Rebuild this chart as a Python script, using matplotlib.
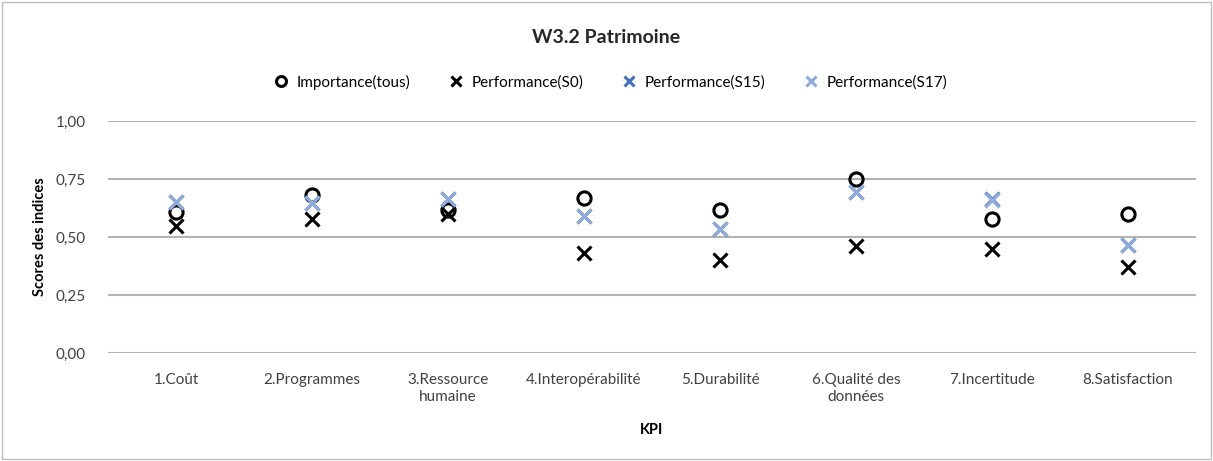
import numpy as np
import matplotlib.pyplot as plt
from matplotlib.patches import Rectangle

plt.rcParams['font.family'] = ['Lato', 'DejaVu Sans']

kpis = ["1.Coût", "2.Programmes", "3.Ressource\nhumaine", "4.Interopérabilité",
        "5.Durabilité", "6.Qualité des\ndonnées", "7.Incertitude", "8.Satisfaction"]
importance = [0.61, 0.68, 0.615, 0.67, 0.615, 0.75, 0.58, 0.60]
perf_s0 = [0.55, 0.58, 0.60, 0.43, 0.40, 0.46, 0.45, 0.37]
perf_s15 = [0.65, 0.645, 0.665, 0.59, 0.535, 0.695, 0.665, 0.465]
perf_s17 = [0.65, 0.645, 0.665, 0.59, 0.535, 0.695, 0.66, 0.465]

fig = plt.figure(figsize=(12.13, 4.61), dpi=100)
ax = fig.add_axes([0.089, 0.234, 0.897, 0.5033])

x = np.arange(len(kpis))
ax.plot(x, importance, 'o', mfc='none', mec='black', mew=2.2, ms=9.5,
        label='Importance(tous)')
ax.plot(x, perf_s0, 'x', color='black', mew=2.2, ms=10, label='Performance(S0)')
ax.plot(x, perf_s15, 'x', color='#4472C4', mew=2.2, ms=10, label='Performance(S15)')
ax.plot(x, perf_s17, 'x', color='#8FAADC', mew=2.2, ms=10, label='Performance(S17)')

ax.set_xlim(-0.5, 7.5)
ax.set_ylim(0, 1)
ax.set_yticks([0, 0.25, 0.5, 0.75, 1.0])
ax.set_yticklabels(['0,00', '0,25', '0,50', '0,75', '1,00'], fontsize=11, color='#404040')
ax.set_xticks(x)
ax.set_xticklabels(kpis, fontsize=11, color='#404040', linespacing=1.3)
ax.tick_params(length=0, pad=14)
ax.tick_params(axis='y', pad=16)
for s in ax.spines.values():
    s.set_visible(False)
ax.yaxis.grid(True, color='#B3B3B3', lw=1.5)
ax.set_axisbelow(True)

ax.set_ylabel('Scores des indices', fontsize=10.5, fontweight='bold', labelpad=6)
ax.set_xlabel('KPI', fontsize=10.5, fontweight='bold', labelpad=14)

fig.text(0.5, 0.918, 'W3.2 Patrimoine', ha='center', va='center',
         fontsize=14, fontweight='bold', color='#262626')
fig.legend(loc='center', bbox_to_anchor=(0.5, 0.822), ncol=4, frameon=False,
           fontsize=11, handletextpad=0.0, columnspacing=2.0, markerscale=0.75)

fig.patches.append(Rectangle((0.002, 0.004), 0.996, 0.992, transform=fig.transFigure,
                             fill=False, edgecolor='#BFBFBF', lw=1))

fig.savefig('out.png', dpi=100)
